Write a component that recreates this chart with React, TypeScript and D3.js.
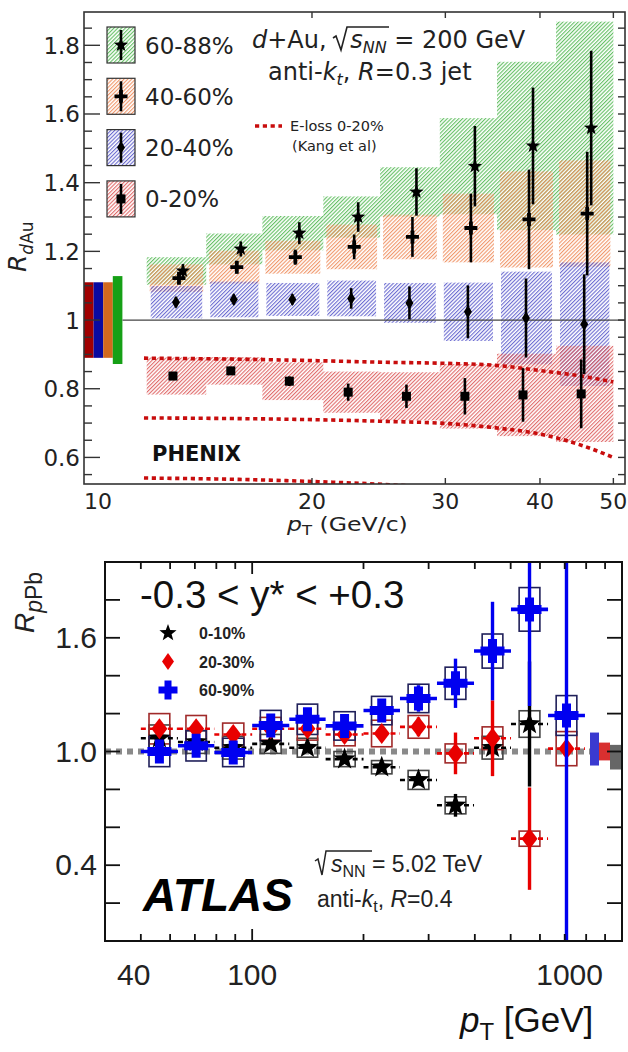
import React from 'react';
import * as d3 from 'd3';

// ---- top panel: PHENIX d+Au, sqrt(sNN) = 200 GeV, anti-kt R=0.3 ----
const dauPtEdges = [12.1, 14.5, 17.2, 20.7, 24.6, 29.5, 35.1, 42.0, 50.0];

const dau6088 = [1.143, 1.207, 1.253, 1.3, 1.373, 1.448, 1.507, 1.559];
const dau6088Stat = [0.02, 0.022, 0.032, 0.043, 0.069, 0.117, 0.17, 0.225];
const dau6088Sys = [0.04, 0.045, 0.05, 0.06, 0.072, 0.14, 0.245, 0.31];

const dau4060 = [1.122, 1.154, 1.183, 1.213, 1.242, 1.268, 1.293, 1.31];
const dau4060Stat = [0.015, 0.018, 0.022, 0.036, 0.058, 0.1, 0.145, 0.18];
const dau4060Sys = [0.04, 0.048, 0.048, 0.065, 0.065, 0.1, 0.14, 0.155];

const dau2040 = [1.052, 1.06, 1.06, 1.063, 1.05, 1.024, 1.006, 0.988];
const dau2040Stat = [0.015, 0.015, 0.015, 0.03, 0.048, 0.077, 0.115, 0.145];
const dau2040Sys = [0.047, 0.052, 0.048, 0.052, 0.058, 0.085, 0.135, 0.18];

const dau0020 = [0.837, 0.852, 0.822, 0.79, 0.778, 0.778, 0.782, 0.785];
const dau0020Stat = [0.012, 0.012, 0.014, 0.025, 0.034, 0.053, 0.078, 0.1];
const dau0020Sys = [0.054, 0.04, 0.055, 0.06, 0.07, 0.094, 0.12, 0.14];

const dauCentLabels = ['60-88%', '40-60%', '20-40%', '0-20%'];
const dauGlobalUnc = [0.128, 0.11, 0.11, 0.11];
const dauXTicks = [20, 30, 40, 50];
const dauXLabels = [10, 20, 30, 40, 50];

// E-loss 0-20% (Kang et al) curves
const elossPt = [12, 16, 20, 25, 30, 35, 40, 45, 50];
const elossUpper = [0.889, 0.886, 0.882, 0.877, 0.874, 0.868, 0.853, 0.838, 0.82];
const elossMiddle = [0.715, 0.713, 0.71, 0.705, 0.699, 0.686, 0.668, 0.638, 0.6];
const elossLower = [0.54, 0.536, 0.53, 0.521, 0.51, 0.495, 0.475, 0.45, 0.42];

// ---- bottom panel: ATLAS p+Pb 5.02 TeV, anti-kt R=0.4 ----
const ppbPtEdges = [50, 63, 79, 100, 126, 158, 200, 251, 316, 398, 501, 631, 794];

const ppb0010 = [1.07, 1.05, 1.02, 1.04, 1.02, 0.96, 0.917, 0.85, 0.716, 1.02, 1.145];
const ppb0010Stat = [0.02, 0.02, 0.02, 0.02, 0.02, 0.02, 0.025, 0.03, 0.06, 0.04, 0.33];
const ppb0010Sys = [0.07, 0.06, 0.06, 0.05, 0.05, 0.04, 0.035, 0.05, 0.045, 0.06, 0.07];

const ppb2030 = [1.12, 1.12, 1.09, 1.12, 1.12, 1.09, 1.095, 1.13, 0.99, 1.07, 0.54, 1.015];
const ppb2030Stat = [0.03, 0.03, 0.03, 0.03, 0.03, 0.03, 0.04, 0.05, 0.11, 0.2, 0.27, 0.03];
const ppb2030Sys = [0.08, 0.07, 0.06, 0.06, 0.06, 0.06, 0.07, 0.06, 0.05, 0.06, 0.04, 0.09];

const ppb6090 = [1.0, 1.03, 0.995, 1.137, 1.17, 1.135, 1.216, 1.28, 1.36, 1.53, 1.75, 1.19];
const ppb6090Stat = [0.03, 0.03, 0.03, 0.03, 0.03, 0.03, 0.05, 0.07, 0.13, 0.26, 0.51, 1.3];
const ppb6090Sys = [0.08, 0.08, 0.075, 0.08, 0.08, 0.075, 0.075, 0.075, 0.085, 0.09, 0.115, 0.105];

const ppbCentLabels = ['0-10%', '20-30%', '60-90%'];
const ppbGlobalLow = [0.905, 0.953, 0.926];
const ppbGlobalHigh = [1.035, 1.047, 1.1];
const ppbXTicks = [50, 60, 70, 80, 90, 100, 200, 300, 400, 500, 600, 700, 800, 900];
const ppbYLabels = [0.4, 1.0, 1.6];

const SANS = 'Liberation Sans, Arial, sans-serif';
const DEJA = 'DejaVu Sans, sans-serif';

function markerPath(kind: string, cx: number, cy: number, a: number, b: number) {
  if (kind === 'star') {
    const pts: string[] = [];
    for (let i = 0; i < 10; i++) {
      const r = i % 2 === 0 ? a : a * b;
      const ang = -Math.PI / 2 + (i * Math.PI) / 5;
      pts.push(`${cx + r * Math.cos(ang)},${cy + r * Math.sin(ang)}`);
    }
    return 'M' + pts.join('L') + 'Z';
  }
  if (kind === 'cross') {
    return `M${cx - b},${cy - a}H${cx + b}V${cy - b}H${cx + a}V${cy + b}H${cx + b}V${cy + a}H${cx - b}V${cy + b}H${cx - a}V${cy - b}H${cx - b}Z`;
  }
  if (kind === 'diamond') {
    return `M${cx},${cy - b}L${cx + a},${cy}L${cx},${cy + b}L${cx - a},${cy}Z`;
  }
  return `M${cx - a},${cy - a}H${cx + a}V${cy + a}H${cx - a}Z`;
}

export default function App() {
  // scales
  const xT = d3.scaleLog().domain([10, 51.8]).range([84, 625]);
  const yT = d3.scaleLinear().domain([0.5226, 1.897]).range([484, 12]);
  const xB = d3.scaleLog().domain([40, 1000]).range([105, 622]);
  const yB = d3.scaleLinear().domain([0, 2]).range([941, 562]);

  const dauCenters = dauPtEdges.slice(0, -1).map((e, i) => Math.sqrt(e * dauPtEdges[i + 1]));
  const ppbCenters = ppbPtEdges.slice(0, -1).map((e, i) => Math.sqrt(e * ppbPtEdges[i + 1]));

  const topSeries = [
    { label: dauCentLabels[0], v: dau6088, stat: dau6088Stat, sys: dau6088Sys, mk: 'star', a: 7.5, b: 0.42, hatch: '#52b852', glob: '#16a016', dx: 6.5, inset: 0 },
    { label: dauCentLabels[1], v: dau4060, stat: dau4060Stat, sys: dau4060Sys, mk: 'cross', a: 6.5, b: 1.9, hatch: '#ee8a58', glob: '#d2691e', dx: 2.5, inset: 3 },
    { label: dauCentLabels[2], v: dau2040, stat: dau2040Stat, sys: dau2040Sys, mk: 'diamond', a: 4, b: 6.5, hatch: '#5a5acb', glob: '#0a0aa0', dx: -0.5, inset: 4 },
    { label: dauCentLabels[3], v: dau0020, stat: dau0020Stat, sys: dau0020Sys, mk: 'square', a: 4.5, b: 0, hatch: '#dd5a5a', glob: '#a00000', dx: -3.5, inset: 0 },
  ];

  const botSeries = [
    { label: ppbCentLabels[0], v: ppb0010, stat: ppb0010Stat, sys: ppb0010Sys, mk: 'star', a: 11.5, b: 0.42, color: '#000', box: '#444', dash: '5,4', ms: 9, mb: 0.42 },
    { label: ppbCentLabels[1], v: ppb2030, stat: ppb2030Stat, sys: ppb2030Sys, mk: 'diamond', a: 8, b: 10.5, color: '#e80000', box: '#a02a2a', dash: '5,4', ms: 6, mb: 8.5 },
    { label: ppbCentLabels[2], v: ppb6090, stat: ppb6090Stat, sys: ppb6090Sys, mk: 'cross', a: 12, b: 4.5, color: '#0000f0', box: '#20205a', dash: null, ms: 9.5, mb: 3.5 },
  ];
  const botGlobalColors = ['#666', '#d83030', '#3a3ad0'];

  const elossLine = d3.line<number>().x((d, i) => xT(elossPt[i])).y(d => yT(d)).curve(d3.curveMonotoneX);

  const [tx0, tx1] = xT.range();
  const [ty1, ty0] = yT.range();
  const [bx0, bx1] = xB.range();
  const [by1, by0] = yB.range();

  const topYTicks = d3.range(11, 38).map(i => i * 0.05);

  return (
    <svg width={628} height={1052} style={{ position: 'absolute', left: 0, top: 0, background: '#fff' }}>
      <defs>
        {topSeries.map((s, k) => (
          <pattern key={k} id={`hatch${k}`} patternUnits="userSpaceOnUse" width={2.7} height={2.7} patternTransform="rotate(45)">
            <line x1={0.6} y1={0} x2={0.6} y2={2.7} stroke={s.hatch} strokeWidth={1} />
          </pattern>
        ))}
        <clipPath id="clipTop"><rect x={tx0} y={ty0} width={tx1 - tx0} height={ty1 - ty0} /></clipPath>
        <clipPath id="clipBot"><rect x={bx0} y={by0} width={bx1 - bx0} height={by1 - by0} /></clipPath>
      </defs>

      {/* ================= TOP PANEL ================= */}
      <g clipPath="url(#clipTop)">
        {topSeries.map((s, k) => (
          <g key={k}>
            {s.v.map((v, i) => (
              <rect key={i} x={xT(dauPtEdges[i]) + s.inset} width={xT(dauPtEdges[i + 1]) - xT(dauPtEdges[i]) - 2 * s.inset}
                y={yT(v + s.sys[i])} height={yT(v - s.sys[i]) - yT(v + s.sys[i])} fill={`url(#hatch${k})`} />
            ))}
          </g>
        ))}
        {/* global normalisation boxes: 0-20, 20-40, 40-60, 60-88 from the left */}
        {[3, 2, 1, 0].map((k, j) => (
          <rect key={k} x={tx0 + j * 9.6} width={9.6} y={yT(1 + dauGlobalUnc[k])} height={yT(1 - dauGlobalUnc[k]) - yT(1 + dauGlobalUnc[k])} fill={topSeries[k].glob} />
        ))}
        <line x1={tx0 + 38.5} x2={tx1} y1={yT(1)} y2={yT(1)} stroke="#444" strokeWidth={1.3} />
        {[elossUpper, elossMiddle, elossLower].map((c, k) => (
          <path key={k} d={elossLine(c) || ''} fill="none" stroke="#c80d0d" strokeWidth={3.6} strokeDasharray="4.2,3.6" />
        ))}
        {[3, 2, 1, 0].map(k => {
          const s = topSeries[k];
          return (
            <g key={k}>
              {s.v.map((v, i) => {
                const cx = xT(dauCenters[i]) + s.dx;
                return (
                  <g key={i}>
                    <line x1={cx} x2={cx} y1={yT(v + s.stat[i])} y2={yT(v - s.stat[i])} stroke="#000" strokeWidth={2.6} />
                    <path d={markerPath(s.mk, cx, yT(v), s.a, s.b)} fill="#000" />
                  </g>
                );
              })}
            </g>
          );
        })}
      </g>

      {/* frame + axes top */}
      <rect x={tx0} y={ty0} width={tx1 - tx0} height={ty1 - ty0} fill="none" stroke="#333" strokeWidth={1.6} />
      {topYTicks.map((t, i) => {
        const major = Math.round(t * 100) % 20 === 0;
        const y = yT(t);
        return (
          <g key={i}>
            <line x1={tx0} x2={tx0 + (major ? 16 : 8)} y1={y} y2={y} stroke="#333" strokeWidth={1.4} />
            <line x1={tx1} x2={tx1 - 7} y1={y} y2={y} stroke="#333" strokeWidth={1.4} />
            {major && (
              <text x={tx0 - 4} y={y + 8.5} textAnchor="end" fontFamily={DEJA} fontSize={23} fill="#222">{String(+t.toFixed(1))}</text>
            )}
          </g>
        );
      })}
      {dauXTicks.map(t => (
        <g key={t}>
          <line x1={xT(t)} x2={xT(t)} y1={ty1} y2={ty1 - 6} stroke="#333" strokeWidth={1.4} />
          <line x1={xT(t)} x2={xT(t)} y1={ty0} y2={ty0 + 6} stroke="#333" strokeWidth={1.4} />
        </g>
      ))}
      {dauXLabels.map((t, i) => (
        <text key={t} x={xT(t)} y={509} textAnchor={i === 0 ? 'start' : 'middle'} fontFamily={DEJA} fontSize={22} fill="#222">{t}</text>
      ))}
      <text transform="translate(287,531) scale(1.18,1)" fontFamily={DEJA} fontSize={20} fill="#222">
        <tspan fontStyle="italic">p</tspan><tspan fontSize={14} dy={4}>T</tspan><tspan dy={-4}> (GeV/c)</tspan>
      </text>
      <text transform="translate(26,272) rotate(-90)" fontFamily={DEJA} fontSize={25} fill="#222">
        <tspan fontStyle="italic">R</tspan><tspan fontSize={17} dy={7}><tspan fontStyle="italic">d</tspan>Au</tspan>
      </text>

      {/* top legend */}
      {topSeries.map((s, k) => {
        const cy = 45 + k * 51.3;
        return (
          <g key={k}>
            <rect x={107} y={cy - 18} width={28} height={36} fill={`url(#hatch${k})`} stroke="#333" strokeWidth={1.2} />
            <line x1={121} x2={121} y1={cy - 15} y2={cy + 15} stroke="#000" strokeWidth={2.6} />
            <path d={markerPath(s.mk, 121, cy, s.a, s.b)} fill="#000" />
            <text x={145} y={cy + 8.5} fontFamily={DEJA} fontSize={23} fill="#222">{s.label}</text>
          </g>
        );
      })}
      <text x={252} y={48} fontFamily={DEJA} fontSize={24} fill="#222">
        <tspan fontStyle="italic">d</tspan>+Au, <tspan dx={16} fontStyle="italic">s</tspan><tspan fontSize={16} fontStyle="italic" dy={5}>NN</tspan><tspan dy={-5}> = 200 GeV</tspan>
      </text>
      <path d="M333,38 L336,36 L341,50 L347,27 L389,27" fill="none" stroke="#222" strokeWidth={1.6} />
      <text x={268} y={80} fontFamily={DEJA} fontSize={24} fill="#222">
        anti-<tspan fontStyle="italic">k</tspan><tspan fontSize={16} fontStyle="italic" dy={5}>t</tspan><tspan dy={-5}>, </tspan><tspan fontStyle="italic">R</tspan>=0.3 jet
      </text>
      <line x1={255} x2={282} y1={126} y2={126} stroke="#c80d0d" strokeWidth={3.6} strokeDasharray="4.2,3.6" />
      <text x={290} y={131} fontFamily={DEJA} fontSize={14.5} fill="#222">E-loss 0-20%</text>
      <text x={292} y={151} fontFamily={DEJA} fontSize={14.5} fill="#222">(Kang et al)</text>
      <text x={152} y={461} fontFamily={DEJA} fontSize={21} fontWeight="bold" fill="#111">PHENIX</text>

      {/* ================= BOTTOM PANEL ================= */}
      <g clipPath="url(#clipBot)">
        <line x1={bx0} x2={bx1 - 32} y1={yB(1)} y2={yB(1)} stroke="#8a8a8a" strokeWidth={6} strokeDasharray="6,5" />
        {botSeries.map((s, k) => (
          <g key={k}>
            {s.v.map((v, i) => {
              const lo = Math.log(ppbPtEdges[i]), hi = Math.log(ppbPtEdges[i + 1]);
              const c = (lo + hi) / 2, hw = (hi - lo) * 0.28;
              const x0 = xB(Math.exp(c - hw)), x1 = xB(Math.exp(c + hw));
              return (
                <rect key={i} x={x0} width={x1 - x0} y={yB(v + s.sys[i])} height={yB(v - s.sys[i]) - yB(v + s.sys[i])}
                  fill="none" stroke={s.box} strokeWidth={1.6} />
              );
            })}
          </g>
        ))}
        {botSeries.map((s, k) => (
          <g key={k}>
            {s.v.map((v, i) => {
              const cx = xB(ppbCenters[i]);
              const cy = yB(v);
              return (
                <g key={i}>
                  <line x1={xB(ppbPtEdges[i])} x2={xB(ppbPtEdges[i + 1])} y1={cy} y2={cy} stroke={s.color}
                    strokeWidth={s.dash ? 2.6 : 3.6} strokeDasharray={s.dash || undefined} />
                  <line x1={cx} x2={cx} y1={yB(v + s.stat[i])} y2={yB(v - s.stat[i])} stroke={s.color} strokeWidth={3.4} />
                  <path d={markerPath(s.mk, cx, cy, s.a, s.b)} fill={s.color} />
                </g>
              );
            })}
          </g>
        ))}
        {/* global uncertainties: 60-90, 20-30, 0-10 toward the right edge */}
        {[2, 1, 0].map((k, j) => (
          <rect key={k} x={bx1 - 32 + [0, 9, 20][j]} width={[9, 11, 12][j]} y={yB(ppbGlobalHigh[k])}
            height={yB(ppbGlobalLow[k]) - yB(ppbGlobalHigh[k])} fill={botGlobalColors[k]} />
        ))}
      </g>

      <rect x={bx0} y={by0} width={bx1 - bx0} height={by1 - by0} fill="none" stroke="#111" strokeWidth={2} />
      {d3.range(1, 10).map(i => {
        const y = yB(i * 0.2);
        return (
          <g key={i}>
            <line x1={bx0} x2={bx0 + 15} y1={y} y2={y} stroke="#111" strokeWidth={1.8} />
            <line x1={bx1} x2={bx1 - 15} y1={y} y2={y} stroke="#111" strokeWidth={1.8} />
          </g>
        );
      })}
      {ppbYLabels.map(t => (
        <text key={t} x={bx0 - 8} y={yB(t) + 10} textAnchor="end" fontFamily={SANS} fontSize={30} fill="#222">{t.toFixed(1)}</text>
      ))}
      {ppbXTicks.map(t => {
        const len = t === 100 ? 12 : 7;
        return (
          <g key={t}>
            <line x1={xB(t)} x2={xB(t)} y1={by1} y2={by1 - len} stroke="#111" strokeWidth={1.8} />
            <line x1={xB(t)} x2={xB(t)} y1={by0} y2={by0 + len} stroke="#111" strokeWidth={1.8} />
          </g>
        );
      })}
      <text x={xB(40) + 12} y={985} fontFamily={SANS} fontSize={30} fill="#222">40</text>
      <text x={xB(100)} y={985} textAnchor="middle" fontFamily={SANS} fontSize={30} fill="#222">100</text>
      <text x={xB(1000) - 19} y={985} textAnchor="end" fontFamily={SANS} fontSize={30} fill="#222">1000</text>
      <text x={460} y={1032} fontFamily={SANS} fontSize={35} fill="#111">
        <tspan fontStyle="italic">p</tspan><tspan fontSize={24} dy={8}>T</tspan><tspan dy={-8}> [GeV]</tspan>
      </text>
      <text transform="translate(34,633) rotate(-90)" fontFamily={SANS} fontSize={28} fill="#222">
        <tspan fontStyle="italic">R</tspan><tspan fontSize={23} dy={8}><tspan fontStyle="italic">p</tspan>Pb</tspan>
      </text>

      <text x={140} y={608} fontFamily={SANS} fontSize={38.5} fill="#111">-0.3 &lt; y* &lt; +0.3</text>
      {botSeries.map((s, k) => {
        const cy = 633 + k * 28.5;
        return (
          <g key={k}>
            <path d={markerPath(s.mk, 168, cy, s.ms, s.mb)} fill={s.color} />
            <text x={199} y={cy + 6} fontFamily={SANS} fontSize={16} fontWeight="bold" fill="#222">{s.label}</text>
          </g>
        );
      })}
      <text x={143} y={911} fontFamily={SANS} fontSize={46} fontWeight="bold" fontStyle="italic" fill="#000">ATLAS</text>
      <path d="M315,861 L318,859 L322,875 L326,851 L372,851" fill="none" stroke="#222" strokeWidth={1.5} />
      <text x={331} y={872} fontFamily={SANS} fontSize={23} fill="#222">
        <tspan fontStyle="italic">s</tspan><tspan fontSize={16} dy={5}>NN</tspan><tspan dy={-5}> = 5.02 TeV</tspan>
      </text>
      <text x={317} y={907} fontFamily={SANS} fontSize={23} fill="#222">
        anti-<tspan fontStyle="italic">k</tspan><tspan fontSize={16} dy={5}>t</tspan><tspan dy={-5}>, </tspan><tspan fontStyle="italic">R</tspan>=0.4
      </text>
    </svg>
  );
}
